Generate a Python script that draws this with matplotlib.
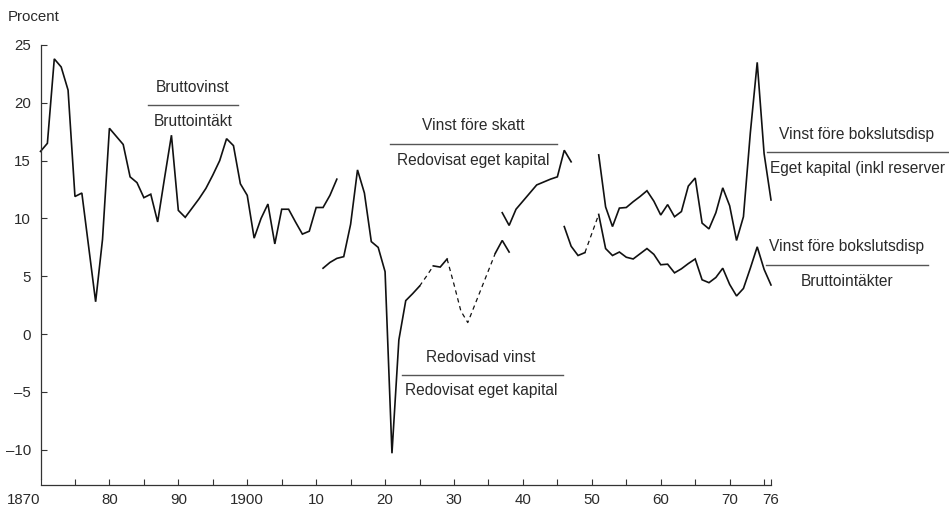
import matplotlib
matplotlib.use("Agg")
import matplotlib.pyplot as plt
from matplotlib.lines import Line2D

# ---------------- data ----------------
# Bruttovinst / Bruttointäkt
s1_years = list(range(1870, 1914))
s1_values = [15.8, 16.5, 23.8, 23.1, 21.1, 11.9, 12.2, 7.5, 2.8, 8.2,
             17.8, 17.1, 16.4, 13.6, 13.1, 11.8, 12.1, 9.7, 13.5, 17.2,
             10.7, 10.1, 10.9, 11.7, 12.6, 13.75, 15.0, 16.9, 16.3, 13.0,
             12.0, 8.3, 10.0, 11.25, 7.8, 10.8, 10.8, 9.7, 8.65, 8.9,
             10.95, 10.95, 12.0, 13.4]

# Redovisad vinst / Redovisat eget kapital
s2_years = list(range(1911, 1939))
s2_values = [5.7, 6.2, 6.55, 6.7, 9.5, 14.2, 12.2, 8.0, 7.5, 5.4,
             -10.3, -0.5, 2.9, 3.5, 4.15, 5.0, 5.9, 5.8, 6.5, 4.3,
             2.0, 1.0, 2.5, 4.0, 5.5, 7.0, 8.1, 7.1]
s2_dashed = [(1925, 1927), (1929, 1936)]

# Vinst före skatt / Redovisat eget kapital
s3_years = list(range(1937, 1948))
s3_values = [10.5, 9.4, 10.8, 11.5, 12.2, 12.9, 13.15, 13.4, 13.6, 15.9, 14.9]

# Vinst före bokslutsdisp / Eget kapital (inkl reserver)
s4_years = list(range(1951, 1977))
s4_values = [15.5, 11.0, 9.3, 10.9, 10.95, 11.45, 11.9, 12.4, 11.5, 10.3,
             11.2, 10.15, 10.6, 12.8, 13.5, 9.6, 9.1, 10.5, 12.65, 11.1,
             8.1, 10.15, 17.4, 23.5, 15.6, 11.6]

# Vinst före bokslutsdisp / Bruttointäkter
s5_years = [1946, 1947, 1948, 1949] + list(range(1951, 1977))
s5_values = [9.3, 7.6, 6.8, 7.05,
             10.35, 7.4, 6.8, 7.1, 6.65, 6.5, 6.95, 7.4, 6.9, 6.0,
             6.05, 5.3, 5.65, 6.1, 6.5, 4.7, 4.45, 4.9, 5.7, 4.3,
             3.3, 3.95, 5.7, 7.55, 5.6, 4.25]
s5_dashed = [(1949, 1951)]

x_ticks = [1870, 1875, 1880, 1885, 1890, 1895, 1900, 1905, 1910, 1915, 1920,
           1925, 1930, 1935, 1940, 1945, 1950, 1955, 1960, 1965, 1970, 1975, 1976]
x_labels = {1870: "1870", 1880: "80", 1890: "90", 1900: "1900", 1910: "10",
            1920: "20", 1930: "30", 1940: "40", 1950: "50", 1960: "60",
            1970: "70", 1976: "76"}
y_ticks = [25, 20, 15, 10, 5, 0, -5, -10]

# ---------------- figure ----------------
W, H = 949, 507
plt.rcParams['font.family'] = ['Liberation Sans', 'DejaVu Sans']
fig = plt.figure(figsize=(W / 100, H / 100), dpi=100)
fig.patch.set_facecolor('white')

left_px, right_px = 40.5, 771.0
top_px, bot_px = 45.0, 484.5
ax = fig.add_axes([left_px / W, 1 - bot_px / H,
                   (right_px - left_px) / W, (bot_px - top_px) / H])
ax.set_xlim(1870, 1976)
ax.set_ylim(-13.0, 25.0)
ax.set_facecolor('none')

LINE = '#111111'
TXT = '#2a2a2a'
FS = 11.2


def _plot(x, y, d):
    if d:
        ax.plot(x, y, color=LINE, lw=0.9, ls=(0, (3.5, 3)), clip_on=False)
    else:
        ax.plot(x, y, color=LINE, lw=1.2, solid_joinstyle='miter', clip_on=False)


def draw(years, vals, dashed=()):
    def is_dashed(a, b):
        return any(s <= a and b <= e for s, e in dashed)
    run_x, run_y, run_d = [years[0]], [vals[0]], None
    for i in range(len(years) - 1):
        d = is_dashed(years[i], years[i + 1])
        if run_d is None or d == run_d:
            run_x.append(years[i + 1]); run_y.append(vals[i + 1]); run_d = d
        else:
            _plot(run_x, run_y, run_d)
            run_x, run_y, run_d = [years[i], years[i + 1]], [vals[i], vals[i + 1]], d
    _plot(run_x, run_y, run_d)


draw(s1_years, s1_values)
draw(s2_years, s2_values, s2_dashed)
draw(s3_years, s3_values)
draw(s4_years, s4_values)
draw(s5_years, s5_values, s5_dashed)

# axes styling
for sp in ('top', 'right'):
    ax.spines[sp].set_visible(False)
ax.spines['left'].set_bounds(-12.5, 25)
ax.spines['bottom'].set_bounds(1870, 1976)
for sp in ('left', 'bottom'):
    ax.spines[sp].set_color('#333333')
    ax.spines[sp].set_linewidth(0.9)

ax.set_xticks(x_ticks)
ax.set_xticklabels([x_labels.get(t, "") for t in x_ticks])
ax.set_yticks(y_ticks)
ax.set_yticklabels([str(v).replace('-', '\u2013') for v in y_ticks])
ax.tick_params(axis='both', direction='in', length=4, width=0.8,
               colors='#333333', labelcolor=TXT, labelsize=10.8)
ax.tick_params(axis='y', pad=7)
ax.tick_params(axis='x', pad=6)
for lab in ax.get_xticklabels():
    if lab.get_text() == "1870":
        lab.set_ha('right')
        lab.set_x(1872.6)

fig.text(8 / W, 1 - 17 / H, "Procent", fontsize=10.8, color=TXT,
         ha='left', va='center')


def fraction(num, den, x0, x1, y_num, y_line, y_den, cx):
    fig.text(cx / W, 1 - y_num / H, num, fontsize=FS, color=TXT,
             ha='center', va='center')
    fig.add_artist(Line2D([x0 / W, x1 / W], [1 - y_line / H] * 2,
                          transform=fig.transFigure, color='#555555', lw=1.0))
    fig.text(cx / W, 1 - y_den / H, den, fontsize=FS, color=TXT,
             ha='center', va='center')


fraction("Bruttovinst", "Bruttointäkt", 148, 238, 87, 104.5, 121, cx=193)
fraction("Vinst före skatt", "Redovisat eget kapital", 390, 557, 125, 143.5, 160, cx=473)
fraction("Redovisad vinst", "Redovisat eget kapital", 402, 563, 357, 375, 391, cx=481)
fraction("Vinst före bokslutsdisp", "Bruttointäkter", 766, 928, 247, 265, 282, cx=847)

# right-edge fraction (denominator cut at the image edge)
fig.text(857 / W, 1 - 135 / H, "Vinst före bokslutsdisp", fontsize=FS,
         color=TXT, ha='center', va='center')
fig.add_artist(Line2D([767 / W, 948 / W], [1 - 151.5 / H] * 2,
                      transform=fig.transFigure, color='#555555', lw=1.0))
fig.text(770 / W, 1 - 168 / H, "Eget kapital (inkl reserver", fontsize=FS,
         color=TXT, ha='left', va='center')

fig.savefig("out.png", dpi=100, facecolor='white')
